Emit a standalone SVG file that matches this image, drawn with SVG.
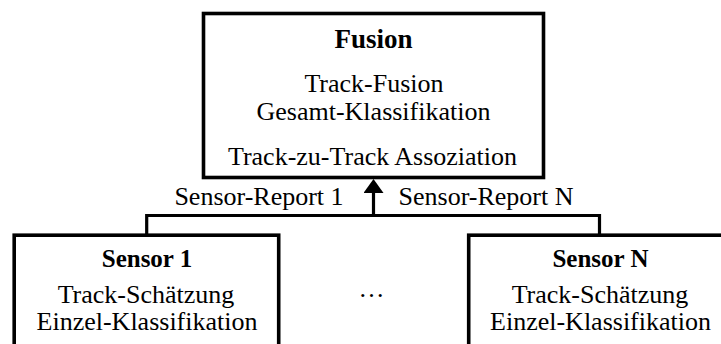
<svg xmlns="http://www.w3.org/2000/svg" width="721" height="344" viewBox="0 0 721 344">
<style>
.box{fill:#fff;stroke:#000;stroke-width:3.6}
.conn{fill:none;stroke:#000;stroke-width:3.2}
text{font-family:"Liberation Serif","Times New Roman",serif;font-size:26px;fill:#000;text-anchor:middle}
.b{font-weight:bold}
</style>
<defs>
<marker id="ah" viewBox="0 0 14 20" refX="0" refY="10" markerWidth="14" markerHeight="20" markerUnits="userSpaceOnUse" orient="auto">
<path d="M0,0 L14,10 L0,20 z" fill="#000"/>
</marker>
</defs>
<rect width="721" height="344" fill="#fff"/>
<g id="connectors">
<path class="conn" d="M146.7 235 V215.5 H599.5 V235"/>
<path class="conn" d="M373.5 215.5 V193" marker-end="url(#ah)"/>
<text x="259" y="205">Sensor-Report 1</text>
<text x="486" y="205">Sensor-Report N</text>
</g>
<g id="fusion">
<rect class="box" x="203.5" y="13.5" width="340" height="164"/>
<text class="b" x="373.5" y="47.7" style="font-size:27px">Fusion</text>
<text x="374" y="91.7">Track-Fusion</text>
<text x="373.5" y="120">Gesamt-Klassifikation</text>
<text x="372.5" y="165">Track-zu-Track Assoziation</text>
</g>
<g id="sensor1">
<rect class="box" x="14.2" y="235.2" width="264.5" height="130"/>
<text class="b" x="147" y="267.3" style="font-size:25px">Sensor 1</text>
<text x="146" y="302.7">Track-Schätzung</text>
<text x="147" y="330">Einzel-Klassifikation</text>
</g>
<g id="ellipsis">
<text x="371.5" y="297">…</text>
</g>
<g id="sensorN">
<rect class="box" x="468.7" y="235.2" width="264.5" height="130"/>
<text class="b" x="600.5" y="267.3" style="font-size:25px">Sensor N</text>
<text x="600" y="302.7">Track-Schätzung</text>
<text x="600.5" y="330">Einzel-Klassifikation</text>
</g>
</svg>
